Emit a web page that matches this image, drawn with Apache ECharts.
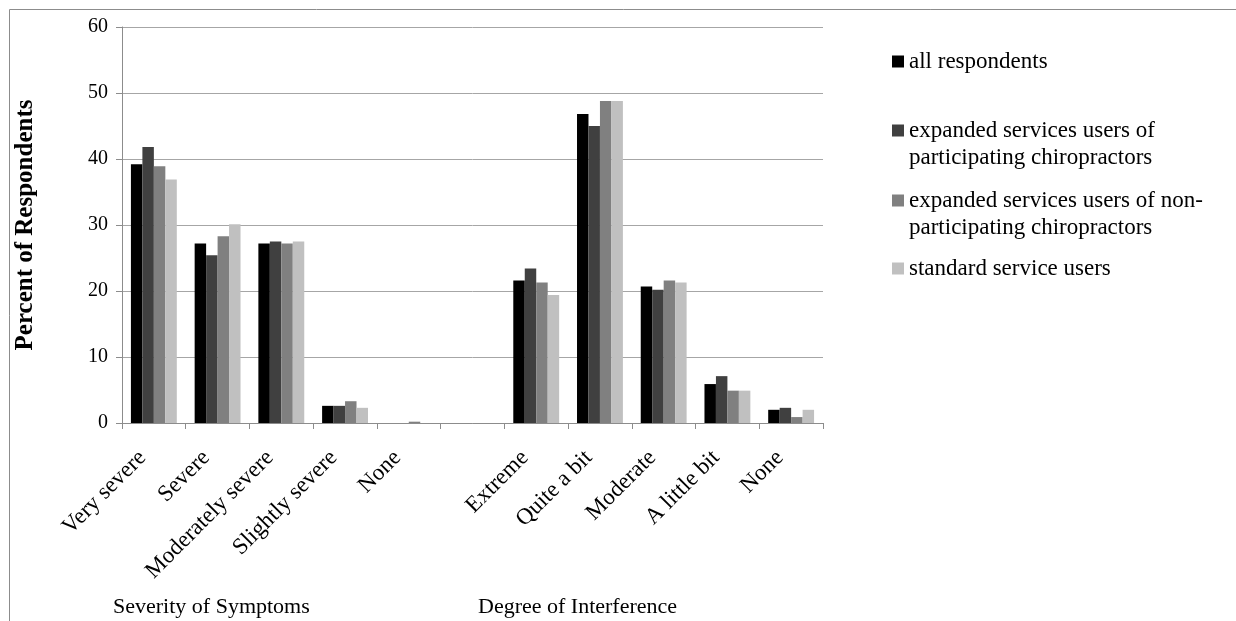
<!DOCTYPE html>
<html>
<head>
<meta charset="utf-8">
<script src="https://cdn.jsdelivr.net/npm/echarts@6/dist/echarts.min.js"></script>
<style>
html,body{margin:0;padding:0;background:#fff;}
#chart{width:1236px;height:621px;}
</style>
</head>
<body>
<div id="chart"></div>
<script>
const categories = ['Very severe', 'Severe', 'Moderately severe', 'Slightly severe', 'None', '', 'Extreme', 'Quite a bit', 'Moderate', 'A little bit', 'None'];
const seriesNames = ['all respondents', 'expanded services users of participating chiropractors', 'expanded services users of non-participating chiropractors', 'standard service users'];
const legendLabels = ['all respondents', 'expanded services users of\nparticipating chiropractors', 'expanded services users of non-\nparticipating chiropractors', 'standard service users'];
const allRespondents = [39.2, 27.2, 27.2, 2.6, 0, null, 21.6, 46.8, 20.7, 5.9, 2.0];
const participating = [41.8, 25.4, 27.5, 2.6, 0, null, 23.4, 45.0, 20.2, 7.1, 2.3];
const nonParticipating = [38.9, 28.3, 27.2, 3.3, 0.2, null, 21.3, 48.8, 21.6, 4.9, 0.9];
const standardUsers = [36.9, 30.1, 27.5, 2.3, 0, null, 19.4, 48.8, 21.3, 4.9, 2.0];
const yTicks = [0, 10, 20, 30, 40, 50, 60];
const groupLabels = ['Severity of Symptoms', 'Degree of Interference'];

const colors = ['#000000', '#404040', '#808080', '#c0c0c0'];
const values = [allRespondents, participating, nonParticipating, standardUsers];
const font = '"Liberation Serif", "Times New Roman", serif';

const chart = echarts.init(document.getElementById('chart'));

const legendTops = [48, 90, 160, 255];
const legends = seriesNames.map((n, i) => ({
  data: [n],
  left: 892,
  top: legendTops[i],
  orient: 'vertical',
  padding: 0,
  itemWidth: 12,
  itemHeight: 12,
  icon: 'rect',
  selectedMode: false,
  formatter: function () {
    const lab = legendLabels[i];
    return lab.indexOf('\n') >= 0 ? ' \n' + lab : lab;
  },
  textStyle: { fontFamily: font, fontSize: 23, color: '#000', lineHeight: 27 }
}));

chart.setOption({
  animation: false,
  color: colors,
  textStyle: { fontFamily: font },
  grid: { left: 122, right: 413, top: 27, bottom: 198, containLabel: false },
  legend: legends,
  xAxis: {
    type: 'category',
    data: categories,
    boundaryGap: true,
    axisLine: { lineStyle: { color: '#8c8c8c', width: 1 } },
    axisTick: { show: true, alignWithLabel: false, interval: 0, length: 6, lineStyle: { color: '#8c8c8c' } },
    axisLabel: {
      interval: 0, rotate: 45, margin: 20, fontSize: 23, color: '#000', fontFamily: font,
      padding: [0, 16, 0, 0]
    }
  },
  yAxis: {
    type: 'value',
    min: yTicks[0],
    max: yTicks[yTicks.length - 1],
    interval: 10,
    name: 'Percent of Respondents',
    nameLocation: 'middle',
    nameGap: 84,
    nameTextStyle: { fontFamily: font, fontSize: 25, fontWeight: 'bold', color: '#000' },
    axisLine: { show: true, lineStyle: { color: '#8c8c8c' } },
    axisTick: { show: true, length: 6, lineStyle: { color: '#8c8c8c' } },
    axisLabel: { fontSize: 20, color: '#000', margin: 14, fontFamily: font },
    splitLine: { show: true, lineStyle: { color: '#a6a6a6', width: 1 } }
  },
  series: seriesNames.map((n, i) => ({
    name: n,
    type: 'bar',
    data: values[i],
    barGap: '0%',
    barCategoryGap: '28%',
    itemStyle: { color: colors[i] }
  })),
  graphic: [
    {
      type: 'rect', left: 7, top: 7, silent: true,
      shape: { x: 0, y: 0, width: 1228, height: 700 },
      style: { fill: 'none', stroke: '#8c8c8c', lineWidth: 1 }
    },
    {
      type: 'text', left: 113, top: 596, silent: true,
      style: { text: groupLabels[0], font: '22px ' + font, fill: '#000' }
    },
    {
      type: 'text', left: 478, top: 596, silent: true,
      style: { text: groupLabels[1], font: '22px ' + font, fill: '#000' }
    }
  ]
});
</script>
</body>
</html>
